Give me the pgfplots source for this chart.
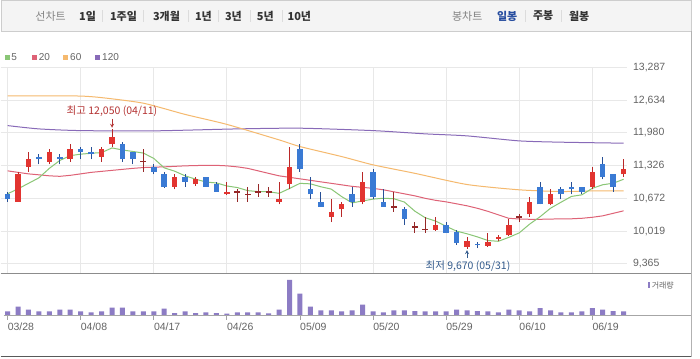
\documentclass[border=0pt]{standalone}
\usepackage{fontspec}
\setmainfont{Liberation Sans}
\newfontfamily\kr{Noto Sans CJK KR}
\usepackage{pgfplots}
\pgfplotsset{compat=1.18}
\usepackage{pgfplotstable}

\definecolor{cRed}{RGB}{226,52,48}
\definecolor{cRedW}{RGB}{185,40,40}
\definecolor{cBlue}{RGB}{58,122,212}
\definecolor{cBlueW}{RGB}{40,80,150}
\definecolor{cDoji}{RGB}{150,40,40}
\definecolor{maA}{RGB}{138,198,118}
\definecolor{maB}{RGB}{222,98,118}
\definecolor{maC}{RGB}{245,185,110}
\definecolor{maD}{RGB}{136,106,184}
\definecolor{volc}{RGB}{140,124,196}
\definecolor{gridc}{RGB}{232,232,232}
\definecolor{lbl}{RGB}{100,100,100}
\definecolor{tbfill}{RGB}{244,244,244}
\definecolor{tbline}{RGB}{205,205,205}
\definecolor{hiRed}{RGB}{180,50,50}
\definecolor{loBlue}{RGB}{50,90,140}
\definecolor{selBlue}{RGB}{40,78,160}

% red (up) candles: index open high low close
\pgfplotstableread{
i o h l c
1 10600 11200 10600 11150
2 11300 11600 11200 11450
4 11400 11650 11350 11600
6 11450 11750 11400 11650
9 11500 11700 11400 11650
10 11750 12050 11700 11900
16 10900 11150 10850 11100
18 10950 11100 10920 11050
21 10750 11000 10740 10800
26 10600 11000 10550 10650
27 10950 11700 10850 11300
31 10300 10650 10200 10400
32 10450 10600 10300 10550
34 10600 11200 10550 11000
41 10050 10300 10030 10150
44 9710 9910 9670 9830
46 9730 9990 9710 9810
47 9860 9940 9830 9910
48 9940 10250 9920 10150
50 10350 10700 10300 10600
52 10550 10850 10530 10750
56 10900 11300 10850 11200
59 11150 11450 11100 11250
}\redtab

% blue (down) candles
\pgfplotstableread{
i o h l c
0 10750 10800 10600 10650
3 11500 11550 11350 11450
5 11500 11550 11350 11450
7 11650 11700 11450 11600
8 11600 11700 11450 11550
11 11750 11800 11400 11450
12 11600 11600 11350 11450
14 11300 11350 11150 11200
15 11150 11200 10880 10900
17 11100 11150 10900 11000
19 11100 11100 10900 10900
20 10950 11000 10800 10800
28 11650 11750 11200 11250
29 10850 11100 10650 10750
30 10600 10800 10500 10500
33 10750 10900 10500 10600
35 11200 11250 10650 10700
36 10600 10850 10500 10500
38 10450 10500 10150 10250
42 10150 10200 9980 9990
43 10000 10050 9750 9780
45 9770 9810 9680 9740
51 10900 11000 10550 10550
53 10850 10900 10650 10750
54 10900 11000 10750 10850
55 10900 10900 10750 10800
57 11350 11500 11050 11100
58 11150 11150 10800 10900
}\bluetab

% doji candles: index close high low
\pgfplotstableread{
i c h l
13 11400 11650 11200
22 10800 10850 10600
23 10750 10900 10600
24 10800 10950 10700
25 10800 10900 10700
37 10500 10800 10400
39 10100 10200 9990
40 10050 10300 9990
49 10300 10350 10200
}\dojitab

\pgfplotstableread{
i v
0 10762
1 10862
2 10971
3 11081
4 11270
5 11428
6 11523
7 11553
8 11571
9 11585
10 11677
11 11637
12 11607
13 11575
14 11469
15 11280
16 11214
17 11121
18 11055
19 10997
20 10979
21 10919
22 10887
23 10826
24 10806
25 10804
26 10772
27 10868
28 10971
29 10961
30 10903
31 10856
32 10706
33 10582
34 10620
35 10656
36 10674
37 10664
38 10598
39 10417
40 10285
41 10218
42 10114
43 10018
44 9965
45 9903
46 9831
47 9815
48 9893
49 9983
50 10158
51 10305
52 10475
53 10594
54 10710
55 10742
56 10872
57 10943
58 10973
59 11053
}\maFive

\pgfplotstableread{
i v
0 11220
1 11190
2 11160
3 11141
4 11121
5 11111
6 11131
7 11160
8 11190
9 11210
10 11230
11 11250
12 11270
13 11286
14 11294
15 11300
16 11310
17 11320
18 11326
19 11330
20 11330
21 11320
22 11300
23 11270
24 11220
25 11170
26 11121
27 11091
28 11061
29 11031
30 11001
31 10971
32 10941
33 10911
34 10891
35 10871
36 10842
37 10802
38 10762
39 10722
40 10672
41 10632
42 10602
43 10563
44 10523
45 10473
46 10413
47 10343
48 10274
49 10260
50 10254
51 10254
52 10258
53 10264
54 10264
55 10274
56 10294
57 10323
58 10373
59 10423
}\maTwenty

\pgfplotstableread{
i v
0 12715
4 12715
7 12712
9 12681
13 12570
17 12346
21 12147
26 11838
28 11705
32 11505
35 11340
39 11171
44 10948
49 10842
53 10808
56 10820
59 10822
}\maSixty

\pgfplotstableread{
i v
0 12123
3 12057
7 12023
14 12018
22 12057
28 12071
35 12023
40 11958
44 11918
49 11818
53 11792
59 11772
}\maOneTwenty

\pgfplotstableread{
i v
0 43
1 90
2 60
3 43
4 43
5 60
6 60
7 43
8 33
9 43
10 80
11 80
12 43
13 43
14 43
15 70
16 27
17 43
18 27
19 33
20 27
21 20
22 33
23 33
24 33
25 23
26 60
27 360
28 220
29 90
30 53
31 53
32 43
33 53
34 110
35 43
36 33
37 53
38 53
39 47
40 43
41 43
42 43
43 60
44 53
45 47
46 43
47 33
48 60
49 53
50 43
51 77
52 53
53 33
54 33
55 43
56 77
57 60
58 47
59 43
}\voltab

\pgfplotsset{
  candle/.style={only marks, mark=*, mark size=0pt, mark options={draw opacity=0, fill opacity=0}},
}

\begin{document}
\begin{tikzpicture}
\begin{scope}[x=1pt,y=1pt]
\fill[white] (0,0) rectangle (700,359);
% toolbar
\filldraw[fill=tbfill, draw=tbline] (0.5,327.5) rectangle (691.5,358.5);
\foreach \xx in {102,143,188,218,250,282,525,561}
  \draw[tbline!70] (\xx,337) -- (\xx,349);
\begin{scope}[every node/.style={font=\kr\fontsize{11}{13}\selectfont, inner sep=0pt}]
\node[text=lbl!80] at (50,343) {선차트};
\node[text=black!80, font=\kr\bfseries\fontsize{11}{13}\selectfont] at (87,343) {1일};
\node[text=black!80, font=\kr\bfseries\fontsize{11}{13}\selectfont] at (123,343) {1주일};
\node[text=black!80, font=\kr\bfseries\fontsize{11}{13}\selectfont] at (166,343) {3개월};
\node[text=black!80, font=\kr\bfseries\fontsize{11}{13}\selectfont] at (203,343) {1년};
\node[text=black!80, font=\kr\bfseries\fontsize{11}{13}\selectfont] at (233,343) {3년};
\node[text=black!80, font=\kr\bfseries\fontsize{11}{13}\selectfont] at (265,343) {5년};
\node[text=black!80, font=\kr\bfseries\fontsize{11}{13}\selectfont] at (299,343) {10년};
\node[text=lbl!80] at (467,343) {봉차트};
\node[text=selBlue, font=\kr\bfseries\fontsize{11}{13}\selectfont] at (507,343) {일봉};
\node[text=black!80, font=\kr\bfseries\fontsize{11}{13}\selectfont] at (543,343) {주봉};
\node[text=black!80, font=\kr\bfseries\fontsize{11}{13}\selectfont] at (579,343) {월봉};
\end{scope}
% MA legend
\begin{scope}[every node/.style={font=\fontsize{10}{11}\selectfont, inner sep=0pt, anchor=west, text=lbl}]
\fill[maA] (4.5,299) rectangle (9.5,304); \node at (10.5,301.5) {5};
\fill[maB] (31.5,299) rectangle (36.5,304); \node at (38,301.5) {20};
\fill[maC] (62.5,299) rectangle (67.5,304); \node at (69.5,301.5) {60};
\fill[maD] (94.5,299) rectangle (99.5,304); \node at (101.5,301.5) {120};
\end{scope}
\end{scope}

% price pane
\begin{axis}[
  at={(0pt,85.7pt)}, anchor=south west, scale only axis,
  width=627pt, height=206pt,
  xmin=-0.67, xmax=59.33, ymin=9181.4, ymax=13287,
  axis line style={draw=none},
  xtick={0,7,...,56}, xticklabels={},
  ytick={9365,10018.667,10672.333,11326,11979.667,12633.333,13287},
  yticklabels={{9,365},{10,019},{10,672},{11,326},{11,980},{12,634},{13,287}},
  scaled y ticks=false,
  yticklabel pos=right,
  major tick length=0pt,
  grid=major, major grid style={gridc, line width=0.8pt},
  yticklabel style={anchor=west, xshift=2.5pt, font=\fontsize{10.5}{12}\selectfont, text=lbl},
  clip mode=individual,
]
\addplot[maD, line width=1pt, smooth, tension=0.4] table[x=i,y=v]{\maOneTwenty};
\addplot[maC, line width=1pt, smooth, tension=0.4] table[x=i,y=v]{\maSixty};
\addplot[maB, line width=1pt] table[x=i,y=v]{\maTwenty};
\addplot[maA, line width=1pt] table[x=i,y=v]{\maFive};
% red candles
\addplot[candle, error bars/.cd, y dir=plus, y explicit, error mark=none,
  error bar style={line width=1pt, cRedW}]
  table[x=i, y=l, y error plus expr=\thisrow{h}-\thisrow{l}, y error minus expr=0]{\redtab};
\addplot[candle, error bars/.cd, y dir=plus, y explicit, error mark=none,
  error bar style={line width=5.5pt, cRed}]
  table[x=i, y=o, y error plus expr=\thisrow{c}-\thisrow{o}, y error minus expr=0]{\redtab};
% blue candles
\addplot[candle, error bars/.cd, y dir=plus, y explicit, error mark=none,
  error bar style={line width=1pt, cBlueW}]
  table[x=i, y=l, y error plus expr=\thisrow{h}-\thisrow{l}, y error minus expr=0]{\bluetab};
\addplot[candle, error bars/.cd, y dir=plus, y explicit, error mark=none,
  error bar style={line width=5.5pt, cBlue}]
  table[x=i, y=c, y error plus expr=\thisrow{o}-\thisrow{c}, y error minus expr=0]{\bluetab};
% doji
\addplot[candle, error bars/.cd, y dir=plus, y explicit, error mark=none,
  error bar style={line width=1pt, cDoji}]
  table[x=i, y=l, y error plus expr=\thisrow{h}-\thisrow{l}, y error minus expr=0]{\dojitab};
\addplot[candle, error bars/.cd, x dir=both, x fixed=0.28, error mark=none,
  error bar style={line width=1.3pt, cDoji}]
  table[x=i, y=c]{\dojitab};
% annotations
\node[font=\kr\fontsize{10.5}{12}\selectfont, text=hiRed, inner sep=0pt] at ([yshift=18.4pt]axis cs:10,12050) {최고 12,050 (04/11)};
\draw[hiRed, line width=0.8pt, -stealth] ([yshift=10.5pt]axis cs:10,12050) -- ([yshift=1.5pt]axis cs:10,12050);
\node[font=\kr\fontsize{10.5}{12}\selectfont, text=loBlue, inner sep=0pt] at ([yshift=-17.4pt, xshift=1pt]axis cs:44,9670) {최저 9,670 (05/31)};
\draw[loBlue, line width=0.8pt, -stealth] ([yshift=-9.5pt]axis cs:44,9670) -- ([yshift=-1.5pt]axis cs:44,9670);
\end{axis}

% volume pane
\begin{axis}[
  at={(0pt,43pt)}, anchor=south west, scale only axis,
  width=692pt, height=42.7pt,
  xmin=-0.67, xmax=65.55, ymin=0, ymax=427,
  axis line style={draw=none}, ytick=\empty,
  xtick={0,7,...,56},
  xticklabels={03/28,04/08,04/17,04/26,05/09,05/20,05/29,06/10,06/19},
  xtick pos=bottom, tick align=outside, major tick length=4pt,
  tick style={lbl!60, line width=0.8pt},
  xticklabel style={anchor=north west, xshift=-3.3pt, font=\fontsize{10.5}{12}\selectfont, text=lbl},
]
\addplot[ybar, bar width=5pt, fill=volc, draw=none] table[x=i,y=v]{\voltab};
\end{axis}

\begin{scope}[x=1pt,y=1pt]
% frame lines
\draw[black!45, line width=0.9pt] (0,85.7) -- (692,85.7);
\draw[black!35, line width=0.8pt] (3,43) -- (692,43);
\draw[black!65, line width=1.2pt] (0,2) -- (692,2);
\draw[black!30, line width=0.8pt] (691.5,2) -- (691.5,328);
% volume legend
\fill[volc] (647.5,70.7) rectangle (650,76.3);
\node[font=\kr\fontsize{8}{10}\selectfont, text=lbl, anchor=west, inner sep=0pt] at (651.5,73.5) {거래량};
\end{scope}
\end{tikzpicture}
\end{document}
